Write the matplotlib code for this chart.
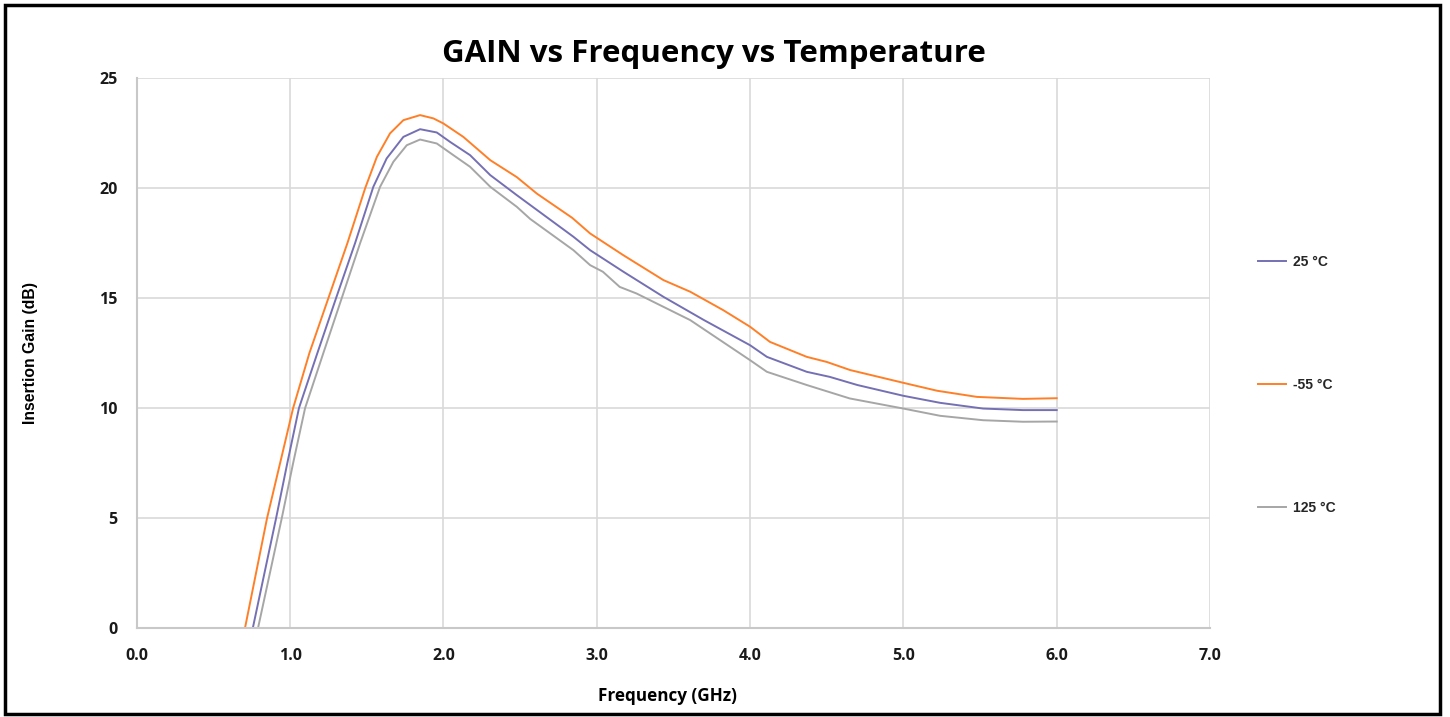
import matplotlib
matplotlib.use('Agg')
import matplotlib.pyplot as plt
from matplotlib.patches import Rectangle

# frequency (GHz) / gain (dB)
freq_25 = [0.72, 0.757, 0.909, 0.982, 1.058, 1.178, 1.30, 1.424, 1.543, 1.63, 1.739, 1.848, 1.957, 2.044,
           2.174, 2.306, 2.479, 2.848, 2.957, 3.174, 3.435, 3.70, 4.0, 4.11, 4.37, 4.52, 4.70,
           5.0, 5.24, 5.52, 5.78, 6.0]
gain_25 = [-1.0, 0.0, 5.0, 7.5, 10.0, 12.5, 15.0, 17.5, 20.06, 21.35, 22.33, 22.68, 22.53, 22.1,
           21.5, 20.59, 19.68, 17.79, 17.18, 16.2, 15.06, 14.0, 12.86, 12.33, 11.65, 11.42, 11.05,
           10.56, 10.24, 9.98, 9.91, 9.91]

freq_m55 = [0.67, 0.706, 0.85, 0.935, 1.02, 1.126, 1.25, 1.374, 1.49, 1.566, 1.652, 1.739, 1.848, 1.935,
            2.0, 2.13, 2.306, 2.479, 2.61, 2.84, 2.957, 3.174, 3.435, 3.61, 3.826, 4.0, 4.13, 4.37, 4.50,
            4.653, 5.0, 5.22, 5.48, 5.78, 6.0]
gain_m55 = [-1.0, 0.0, 5.0, 7.5, 10.0, 12.5, 15.0, 17.5, 20.0, 21.42, 22.49, 23.09, 23.32, 23.17,
            22.94, 22.33, 21.27, 20.5, 19.75, 18.65, 17.94, 16.95, 15.82, 15.29, 14.45, 13.70, 13.01, 12.33, 12.10,
            11.73, 11.15, 10.79, 10.51, 10.42, 10.45]

freq_125 = [0.76, 0.791, 0.946, 1.02, 1.098, 1.217, 1.337, 1.457, 1.587, 1.674, 1.761, 1.848, 1.957, 2.065,
            2.174, 2.306, 2.479, 2.566, 2.848, 2.957, 3.04, 3.15, 3.26, 3.61, 4.0, 4.11, 4.37, 4.65,
            5.0, 5.24, 5.52, 5.78, 6.0]
gain_125 = [-1.0, 0.0, 5.0, 7.5, 10.0, 12.5, 15.0, 17.5, 20.06, 21.2, 21.95, 22.21, 22.03, 21.5,
            20.97, 20.06, 19.15, 18.6, 17.18, 16.5, 16.2, 15.51, 15.21, 14.0, 12.18, 11.65, 11.05, 10.44,
            9.98, 9.65, 9.45, 9.38, 9.39]

x_ticks = [0, 1, 2, 3, 4, 5, 6, 7]
y_ticks = [0, 5, 10, 15, 20, 25]

fig = plt.figure(figsize=(14.5, 7.17), dpi=100)
ax = fig.add_axes([0.0943, 0.124, 0.7402, 0.767])

ax.plot(freq_25, gain_25, color='#7470b3', lw=1.4, label='25 °C')
ax.plot(freq_m55, gain_m55, color='#ff7f27', lw=1.4, label='-55 °C')
ax.plot(freq_125, gain_125, color='#a6a6a6', lw=1.4, label='125 °C')

ax.set_xlim(0, 7)
ax.set_ylim(0, 25)
ax.set_xticks(x_ticks)
ax.set_xticklabels([f'{t:.1f}' for t in x_ticks])
ax.set_yticks(y_ticks)
ax.grid(True, color='#d9d9d9', lw=1.2)
ax.set_axisbelow(True)
for s in ['top', 'right']:
    ax.spines[s].set_visible(False)
ax.spines['left'].set_color('#c8c8c8')
ax.spines['bottom'].set_color('#c8c8c8')
ax.spines['left'].set_linewidth(1.5)
ax.spines['bottom'].set_linewidth(1.5)
ax.tick_params(length=0, pad=14)
for lab in ax.get_xticklabels() + ax.get_yticklabels():
    lab.set_fontfamily('Open Sans')
    lab.set_fontweight('bold')
    lab.set_fontsize(11.5)
    lab.set_color('#1a1a1a')

ax.set_xlabel('Frequency (GHz)', fontfamily='Open Sans', fontweight='bold', fontsize=12.3, labelpad=16)
ax.xaxis.set_label_coords(0.494, -0.107)
ax.set_ylabel('Insertion Gain (dB)', fontfamily='Liberation Sans', fontweight='bold', fontsize=11.3, labelpad=44)

fig.text(0.4925, 0.925, 'GAIN vs Frequency vs Temperature', ha='center', va='center',
         fontfamily='Open Sans', fontweight='bold', fontsize=22.5)

leg = fig.legend(loc='center left', bbox_to_anchor=(0.8676, 0.463), frameon=False,
                 borderpad=0, borderaxespad=0, labelspacing=7.85, handlelength=2.0,
                 handletextpad=0.5, prop={'family': 'Liberation Sans', 'weight': 'bold', 'size': 10})
for t in leg.get_texts():
    t.set_color('#262626')

fig.patches.append(Rectangle((0.0035, 0.004), 0.9897, 0.989, transform=fig.transFigure,
                             fill=False, edgecolor='black', lw=2.5))

fig.savefig('out.png', dpi=100)
